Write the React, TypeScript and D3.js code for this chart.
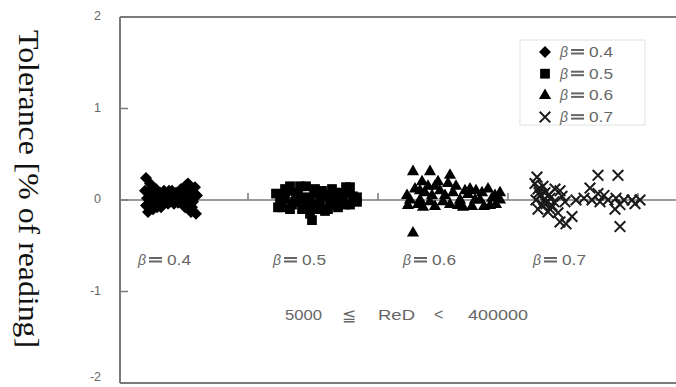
import React from "react";
import * as d3 from "d3";

const W = 676;
const H = 387;

const yTicks = [2, 1, 0, -1, -2];
const categories = ["0.4", "0.5", "0.6", "0.7"];
const labelPos = [1.8, 15.3, 28.3, 41.3];
const catTicks = [12.8, 25.8, 38.8, 51.8];

const beta04: [number, number][] = [
  [2.6, 0.24], [3.0, 0.18], [2.5, 0.1], [2.7, 0.02], [2.6, -0.06], [2.8, -0.13], [3.2, 0.05], [3.3, -0.1],
  [3.6, 0.12], [3.8, -0.02], [4.0, 0.08], [4.1, -0.08], [4.4, 0.1], [4.6, 0.02], [4.8, -0.04], [5.1, 0.06],
  [5.3, 0.0], [5.6, 0.08], [5.8, -0.03], [6.1, 0.12], [6.3, 0.02], [6.5, -0.08], [6.8, 0.18], [7.0, 0.08],
  [7.1, -0.13], [7.3, -0.02], [7.5, 0.14], [7.6, -0.15], [7.7, 0.05], [6.6, 0.16], [6.9, -0.1],
  [3.0, 0.0], [3.5, 0.02], [4.2, 0.0], [5.0, -0.02], [5.5, 0.02], [6.0, -0.02], [7.0, 0.0], [2.9, -0.05],
  [3.1, 0.12], [6.7, 0.05], [7.4, 0.08], [7.2, -0.08], [4.5, 0.06], [5.9, 0.06], [3.4, 0.08],
  [4.9, 0.1], [5.4, -0.04], [6.4, -0.04], [3.7, -0.08], [4.3, -0.05], [6.2, 0.08], [5.2, 0.1],
];

const beta05: [number, number][] = [
  [15.6, 0.07], [15.8, -0.08], [16.5, 0.02], [17.0, 0.15], [17.2, -0.05], [17.6, 0.08], [18.0, 0.15],
  [18.2, -0.1], [18.5, 0.03], [18.6, 0.15], [19.0, -0.15], [19.2, -0.22], [19.4, 0.08], [19.8, -0.05],
  [20.2, 0.1], [20.5, -0.12], [21.0, 0.03], [21.5, 0.08], [21.8, -0.08], [22.3, 0.02], [22.6, 0.14],
  [23.0, 0.14], [22.8, 0.08], [23.0, -0.05], [23.7, 0.03], [23.7, -0.02], [20.8, -0.1], [23.3, 0.04],
  [16.0, 0.0], [16.8, 0.1], [17.5, -0.02], [18.0, 0.0], [19.0, 0.0], [19.5, 0.12], [20.0, 0.02],
  [21.0, -0.05], [21.2, 0.12], [22.0, 0.0], [22.5, -0.05], [16.2, -0.08], [17.8, 0.08], [20.5, 0.06],
  [19.6, -0.1], [18.8, -0.06], [22.0, 0.08], [16.5, 0.12], [17.0, -0.1], [21.5, -0.02], [20.0, -0.08],
];

const beta06: [number, number][] = [
  [29.3, 0.31], [31.0, 0.31], [33.0, 0.27], [29.3, -0.36],
  [28.7, 0.05], [28.8, -0.06], [29.5, 0.12], [30.0, 0.0], [30.3, -0.08], [30.8, 0.15], [31.2, 0.05],
  [31.5, -0.07], [32.0, 0.1], [32.3, -0.02], [32.8, 0.18], [33.3, 0.08], [33.6, 0.15], [34.0, 0.0],
  [34.3, -0.08], [34.8, 0.06], [35.2, -0.07], [35.6, 0.1], [36.0, 0.0], [36.4, -0.07], [36.8, 0.12],
  [37.2, 0.02], [37.6, -0.05], [38.0, 0.08], [38.0, 0.0], [31.8, 0.2], [30.2, 0.2], [35.0, 0.12], [37.0, -0.06],
  [29.0, 0.0], [29.8, -0.05], [30.5, 0.08], [31.0, -0.02], [32.5, 0.05], [33.0, -0.05], [34.5, 0.1],
  [35.5, 0.0], [36.2, 0.08], [37.5, 0.05], [30.0, 0.1], [31.5, 0.15], [33.8, -0.06],
];

const beta07: [number, number][] = [
  [41.7, 0.25], [41.5, 0.18], [41.8, 0.12], [42.0, 0.05], [41.6, 0.0], [42.2, -0.05], [41.8, -0.1],
  [42.5, 0.08], [43.0, 0.02], [43.2, -0.06], [43.5, 0.12], [43.8, -0.14], [44.2, 0.04], [44.5, -0.02],
  [42.8, -0.13], [44.0, -0.24], [45.2, -0.18], [44.6, -0.26], [45.6, 0.0], [46.4, 0.02], [47.2, 0.0],
  [48.0, -0.02], [48.8, 0.0], [49.6, 0.02], [50.4, 0.0], [51.2, 0.0], [52.0, 0.0], [47.0, 0.13],
  [47.8, 0.07], [49.5, -0.1], [50.0, -0.05], [47.8, 0.27], [49.8, 0.27], [50.0, -0.29], [44.0, 0.1],
  [43.0, -0.1], [51.5, -0.04], [48.4, 0.05], [42.4, 0.0], [42.6, -0.04], [41.9, 0.08], [42.9, 0.06],
  [43.4, -0.02], [42.3, 0.15],
];

const legendLabels = ["0.4", "0.5", "0.6", "0.7"];

export default function App() {
  const x = d3.scaleLinear().domain([0, 55.6]).range([120, 676]);
  const y = d3.scaleLinear().domain([-2, 2]).range([383, 17]);

  const diamond = d3.symbol().type(d3.symbolSquare).size(72)()!;
  const square = d3.symbol().type(d3.symbolSquare).size(95)()!;
  const triangle = d3.symbol().type(d3.symbolTriangle).size(64)()!;
  const cross = d3.symbol().type(d3.symbolTimes).size(75)()!;

  const axisColor = "#7a7a7a";
  const textColor = "#666";
  const sans = "Arial, 'Liberation Sans', sans-serif";

  const markers = [
    (k: string) => <path key={k} d={diamond} transform="rotate(45)" fill="#000" />,
    (k: string) => <path key={k} d={square} fill="#000" />,
    (k: string) => <path key={k} d={triangle} fill="#000" />,
    (k: string) => <path key={k} d={cross} fill="none" stroke="#1a1a1a" strokeWidth={2} />,
  ];
  const series = [beta04, beta05, beta06, beta07];

  const betaLabel = (xPos: number, yPos: number, v: string, key: string) => (
    <g key={key} fontFamily={sans} fill={textColor}>
      <text x={xPos} y={yPos} fontSize={14} fontStyle="italic">β</text>
      <rect x={xPos + 11} y={yPos - 8} width={13} height={2} />
      <rect x={xPos + 11} y={yPos - 4.5} width={13} height={2} />
      <text x={xPos + 29} y={yPos} fontSize={14} textLength={24} lengthAdjust="spacingAndGlyphs">{v}</text>
    </g>
  );

  return (
    <div style={{ position: "fixed", left: 0, top: 0 }}>
      <svg width={W} height={H} style={{ display: "block", background: "#fff" }}>
        <text
          transform={`translate(19,189) rotate(90)`}
          textAnchor="middle"
          fontFamily="'Liberation Serif', 'Times New Roman', serif"
          fontSize={30}
          textLength={318}
          lengthAdjust="spacingAndGlyphs"
          fill="#111"
        >
          Tolerance [% of reading]
        </text>

        <line x1={x(0)} x2={x(0)} y1={y(2)} y2={y(-2)} stroke={axisColor} strokeWidth={2} />
        <line x1={x(0)} x2={676} y1={y(2)} y2={y(2)} stroke={axisColor} strokeWidth={2} />
        <line x1={x(0)} x2={676} y1={y(-2)} y2={y(-2)} stroke={axisColor} strokeWidth={2} />
        <line x1={x(0)} x2={676} y1={y(0)} y2={y(0)} stroke={axisColor} strokeWidth={1.5} />

        {yTicks.map((t) => (
          <g key={t}>
            <line x1={x(0)} x2={x(0) + 8} y1={y(t)} y2={y(t)} stroke={axisColor} strokeWidth={1.5} />
            <text x={101} y={Math.min(y(t) + 3, 381)} textAnchor="end" fontFamily={sans} fontSize={12.5} fill={textColor}>
              {t}
            </text>
          </g>
        ))}
        {catTicks.map((c) => (
          <line key={c} x1={x(c)} x2={x(c)} y1={y(0)} y2={y(0) - 7} stroke={axisColor} strokeWidth={1.5} />
        ))}

        {series.map((s, si) =>
          s.map((p, i) => (
            <g key={`${si}-${i}`} transform={`translate(${x(p[0])},${y(p[1])})`}>
              {markers[si](`m${si}-${i}`)}
            </g>
          ))
        )}

        {categories.map((c, i) => betaLabel(x(labelPos[i]), 265, c, `c${i}`))}

        <g fontFamily={sans} fontSize={14} fill={textColor}>
          <text x={285} y={320} textLength={37} lengthAdjust="spacingAndGlyphs">5000</text>
          <text x={342} y={321} fontSize={17}>≦</text>
          <text x={378} y={320} textLength={37} lengthAdjust="spacingAndGlyphs">ReD</text>
          <text x={434} y={320} fontSize={16}>&lt;</text>
          <text x={468} y={320} textLength={60} lengthAdjust="spacingAndGlyphs">400000</text>
        </g>

        <rect x={520} y={40} width={125} height={85} fill="#fff" stroke="#e2e2e2" strokeWidth={1} />
        {legendLabels.map((l, i) => (
          <g key={l}>
            <g transform={`translate(545,${52 + i * 21.7})`}>{markers[i](`lg${i}`)}</g>
            {betaLabel(560, 52 + i * 21.7 + 5, l, `l${i}`)}
          </g>
        ))}
      </svg>
    </div>
  );
}
